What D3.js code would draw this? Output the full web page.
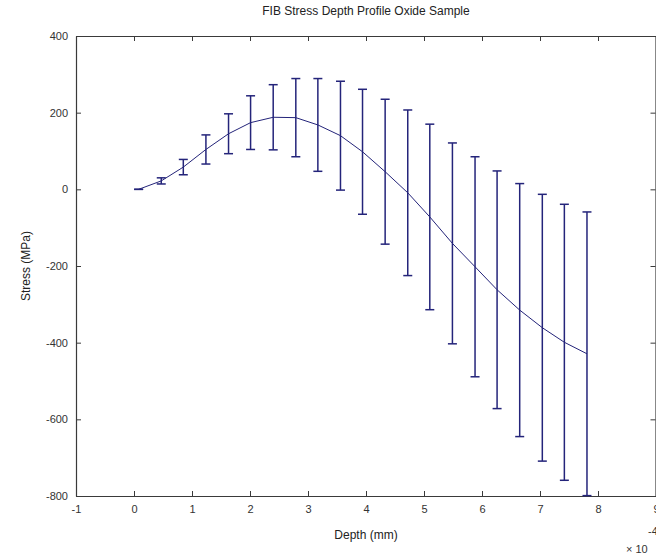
<!DOCTYPE html>
<html>
<head>
<meta charset="utf-8">
<script src="https://cdn.jsdelivr.net/npm/d3@7"></script>
<style>
  body { margin: 0; background: #fff; }
  svg { display: block; font-family: "Liberation Sans", Arial, sans-serif; }
</style>
</head>
<body>
<svg></svg>
<script>
// depth values (x 10^-4 mm), mean stress and error (MPa)
var depth = [0.08, 0.47, 0.85, 1.24, 1.63, 2.01, 2.40, 2.79, 3.17, 3.56, 3.94,
             4.33, 4.72, 5.10, 5.49, 5.88, 6.26, 6.65, 7.04, 7.42, 7.81]
var stress = [0, 22, 58, 104, 145, 174, 188, 187, 168, 140, 98,
              46, -9, -72, -141, -202, -262, -315, -361, -399, -429]
var err = [0, 8, 20, 38, 52, 70, 85, 102, 121, 142, 163,
           189, 216, 242, 262, 287, 310, 330, 348, 360, 370]
var xTicks = [-1, 0, 1, 2, 3, 4, 5, 6, 7, 8, 9]
var yTicks = [-800, -600, -400, -200, 0, 200, 400]

function main(){
    var width = 656
    var height = 559
    var svg = d3.select('svg').attr('width', width).attr('height', height)

    var left = 76, right = 656, top = 36, bottom = 496
    var xScale = d3.scaleLinear().domain([-1, 9]).range([left, right])
    var yScale = d3.scaleLinear().domain([-800, 400]).range([bottom, top])

    var axisColor = '#3a3a3a'
    var markColor = '#24247a'
    var plain = d => String(d)   // keep hyphen minus like the original

    // axes on all four sides, ticks pointing in
    var xAxisB = d3.axisBottom(xScale).tickValues(xTicks).tickFormat(plain).tickSizeInner(-5).tickSizeOuter(0).tickPadding(9)
    var xAxisT = d3.axisTop(xScale).tickValues(xTicks).tickSizeInner(-5).tickSizeOuter(0).tickFormat('')
    var yAxisL = d3.axisLeft(yScale).tickValues(yTicks).tickFormat(plain).tickSizeInner(-5).tickSizeOuter(0).tickPadding(8)
    var yAxisR = d3.axisRight(yScale).tickValues(yTicks).tickSizeInner(-5).tickSizeOuter(0).tickFormat('')

    svg.append('g').attr('transform', 'translate(0,' + bottom + ')').call(xAxisB)
    svg.append('g').attr('transform', 'translate(0,' + top + ')').call(xAxisT)
    svg.append('g').attr('transform', 'translate(' + left + ',0)').call(yAxisL)
    svg.append('g').attr('transform', 'translate(' + (right - 0.5) + ',0)').call(yAxisR)

    svg.selectAll('.domain').attr('stroke', axisColor).attr('stroke-width', 1.2)
    svg.selectAll('.tick line').attr('stroke', axisColor)
    svg.selectAll('.tick text').attr('fill', '#333').style('font-size', '11px')

    // data
    var pts = depth.map((d, i) => ({x: d, y: stress[i], e: err[i]}))

    var line = d3.line().x(d => xScale(d.x)).y(d => yScale(d.y))
    svg.append('path')
        .datum(pts)
        .attr('d', line)
        .attr('fill', 'none')
        .attr('stroke', markColor)
        .attr('stroke-width', 1)

    var cap = 4.5
    var lo = d => yScale(Math.max(d.y - d.e, -800))
    var hi = d => yScale(d.y + d.e)
    var bars = svg.append('g').selectAll('g').data(pts).join('g')
        .attr('stroke', markColor).attr('stroke-width', 1.5)
    bars.append('line')
        .attr('x1', d => xScale(d.x)).attr('x2', d => xScale(d.x))
        .attr('y1', hi).attr('y2', lo)
    bars.append('line')
        .attr('x1', d => xScale(d.x) - cap).attr('x2', d => xScale(d.x) + cap)
        .attr('y1', hi).attr('y2', hi)
    bars.append('line')
        .attr('x1', d => xScale(d.x) - cap).attr('x2', d => xScale(d.x) + cap)
        .attr('y1', lo).attr('y2', lo)

    // labels
    svg.append('text')
        .attr('x', (left + right) / 2).attr('y', 15)
        .attr('text-anchor', 'middle')
        .style('font-size', '12px').attr('fill', '#222')
        .text('FIB Stress Depth Profile Oxide Sample')

    svg.append('text')
        .attr('x', (left + right) / 2).attr('y', 539)
        .attr('text-anchor', 'middle')
        .style('font-size', '12px').attr('fill', '#222')
        .text('Depth (mm)')

    svg.append('text')
        .attr('transform', 'translate(30,' + ((top + bottom) / 2) + ') rotate(-90)')
        .attr('text-anchor', 'middle')
        .style('font-size', '12px').attr('fill', '#222')
        .text('Stress (MPa)')

    svg.append('text')
        .attr('x', 626).attr('y', 553)
        .style('font-size', '11px').attr('fill', '#333')
        .text('\u00d7 10')
    svg.append('text')
        .attr('x', 648).attr('y', 535)
        .style('font-size', '11px').attr('fill', '#333')
        .text('-4')
}
main()
</script>
</body>
</html>
